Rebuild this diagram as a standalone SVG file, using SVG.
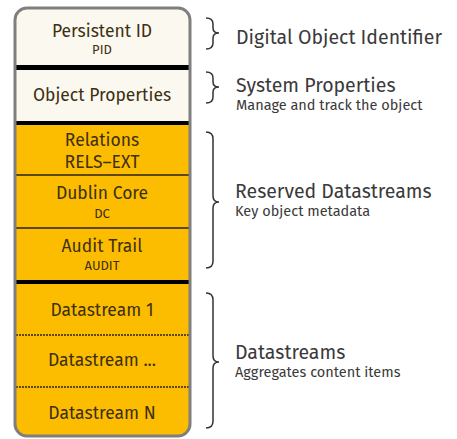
<svg xmlns="http://www.w3.org/2000/svg" width="457" height="439" viewBox="0 0 457 439">
<style>
.t{font-family:"Fira Sans","Open Sans","Noto Sans",sans-serif;text-anchor:middle;fill:#3d3012}
.big{font-size:17.5px}
.sm{font-size:13px}
.r{font-family:"Fira Sans","Open Sans","Noto Sans",sans-serif;fill:#3a3a3a}
.rb{font-size:19.5px}
.rs{font-size:14.5px}
.brace{fill:none;stroke:#333;stroke-width:1.5}
.bar{fill:#000}
.sep{stroke:#2a2210;stroke-width:1.5}
.dot{stroke:#2a2210;stroke-width:1.5;stroke-dasharray:2 1}
</style>
<rect width="457" height="439" fill="#fff"/>
<defs><clipPath id="c"><rect x="15" y="8" width="175" height="428" rx="12"/></clipPath></defs>
<g clip-path="url(#c)">
<rect x="15" y="8" width="175" height="117" fill="#fbf8f0"/>
<rect x="15" y="125" width="175" height="311" fill="#fcbd00"/>
</g>
<g id="pid"><text class="t big" x="102" y="37">Persistent ID</text><text class="t sm" x="102" y="54">PID</text></g>
<rect class="bar" x="16" y="65" width="173" height="5"/>
<g id="objprops"><text class="t big" x="102" y="101">Object Properties</text></g>
<rect class="bar" x="16" y="121" width="173" height="4"/>
<g id="relations"><text class="t big" x="102" y="146">Relations</text><text class="t big" x="102" y="168">RELS–EXT</text></g>
<line class="sep" x1="16" y1="175" x2="189" y2="175"/>
<g id="dc"><text class="t big" x="102" y="199">Dublin Core</text><text class="t sm" x="102" y="218">DC</text></g>
<line class="sep" x1="16" y1="228" x2="189" y2="228"/>
<g id="audit"><text class="t big" x="102" y="252">Audit Trail</text><text class="t sm" x="102" y="270">AUDIT</text></g>
<rect class="bar" x="16" y="280" width="173" height="4"/>
<g id="ds1"><text class="t big" x="102" y="316">Datastream 1</text></g>
<line class="dot" x1="16" y1="335" x2="189" y2="335"/>
<g id="dsdots"><text class="t big" x="102" y="366">Datastream ...</text></g>
<line class="dot" x1="16" y1="387" x2="189" y2="387"/>
<g id="dsn"><text class="t big" x="102" y="419">Datastream N</text></g>
<rect x="15" y="8" width="175" height="428" rx="12" fill="none" stroke="#7f7f7f" stroke-width="3"/>
<g id="connectors">
<path class="brace" d="M206,18 Q213,18 213,24 L213,28 Q213,33 219,33 Q213,33 213,38 L213,43 Q213,49 206,49"/>
<path class="brace" d="M206,72 Q213,72 213,78 L213,82 Q213,87 219,87 Q213,87 213,92 L213,97 Q213,103 206,103"/>
<path class="brace" d="M206,132 Q213,132 213,139 L213,196 Q213,202 219,202 Q213,202 213,208 L213,261 Q213,268 206,268"/>
<path class="brace" d="M206,293 Q213,293 213,300 L213,356 Q213,362 219,362 Q213,362 213,368 L213,421 Q213,428 206,428"/>
</g>
<g id="lbl1"><text class="r rb" x="236" y="44">Digital Object Identifier</text></g>
<g id="lbl2"><text class="r rb" x="236" y="92">System Properties</text><text class="r rs" x="236" y="110">Manage and track the object</text></g>
<g id="lbl3"><text class="r rb" x="235" y="198">Reserved Datastreams</text><text class="r rs" x="235" y="216">Key object metadata</text></g>
<g id="lbl4"><text class="r rb" x="235" y="359">Datastreams</text><text class="r rs" x="235" y="377">Aggregates content items</text></g>
</svg>
